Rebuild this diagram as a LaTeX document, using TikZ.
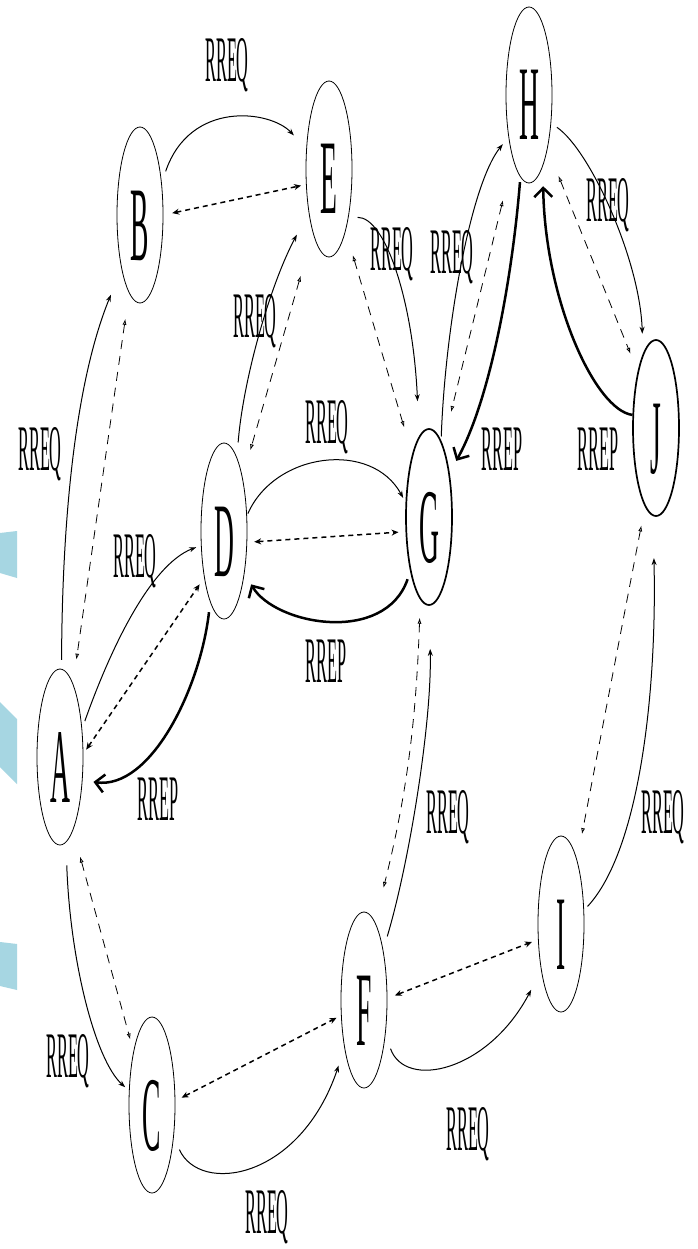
\documentclass[tikz,border=0pt]{standalone}
\usepackage{fontspec}
\setmainfont{Liberation Serif}
\usepackage{graphicx}
\usetikzlibrary{shapes.geometric,arrows.meta}
\definecolor{bluefill}{RGB}{166,214,226}
\newcommand\nlet[1]{\scalebox{0.26}[1]{\fontsize{106}{106}\selectfont #1}}
\newcommand\elab[1]{\scalebox{0.25}[1]{\fontsize{65}{65}\selectfont #1}}
\tikzset{
 nd/.style={draw, ellipse, minimum width=46pt, minimum height=176pt, inner sep=0pt, line width=0.8pt, text height=90pt, text depth=0pt},
 ndb/.style={nd, line width=1.7pt},
 req/.style={line width=1pt, -{Stealth[length=7pt,width=5pt]}},
 rev/.style={line width=0.8pt, dash pattern=on 9pt off 7pt, {Latex[open,length=6pt,width=4pt]}-{Latex[open,length=6pt,width=4pt]}},
 nb/.style={line width=1.5pt, dash pattern=on 5pt off 4pt, {Stealth[open,length=7pt,width=6pt]}-{Stealth[open,length=7pt,width=6pt]}},
 rep/.style={line width=2.5pt, -{Straight Barb[length=9pt,width=18pt]}},
 lab/.style={anchor=base, inner sep=0pt},
 blueshape/.style={fill=bluefill, draw=none}
}
\begin{document}
\begin{tikzpicture}[x=1pt,y=-1pt]
\useasboundingbox (0,0) rectangle (697,1249);
\fill[white] (0,0) rectangle (697,1249);
% light blue shapes at the left edge
\path[blueshape] (0,533) -- (17,531) -- (17,578) -- (0,573) -- cycle;
\path[blueshape] (0,702) -- (17,719) -- (17,784) -- (0,767) -- cycle;
\path[blueshape] (0,942) -- (17,944) -- (17,990) -- (0,986) -- cycle;
% nodes
\node[nd]  (A) at (60,757)  {\nlet{A}};
\node[nd]  (B) at (140,215) {\nlet{B}};
\node[nd]  (C) at (152,1105) {\nlet{C}};
\node[nd]  (D) at (224,531) {\nlet{D}};
\node[nd]  (E) at (329,169) {\nlet{E}};
\node[nd]  (F) at (364,1000) {\nlet{F}};
\node[ndb] (G) at (429,517) {\nlet{G}};
\node[nd]  (H) at (529,95)  {\nlet{H}};
\node[nd]  (I) at (561,924) {\nlet{I}};
\node[ndb] (J) at (656,428) {\nlet{J}};
% connectors
\draw[req, shorten <=9pt, shorten >=28pt] (A.89) .. controls (62,540) and (72,390) .. (B.251);
\draw[rev, shorten <=26pt, shorten >=24pt] (B.262) -- (A.80);
\draw[req, shorten <=23pt, shorten >=5pt] (A.274) .. controls (70,960) and (95,1060) .. (C.148);
\draw[rev, shorten <=27pt, shorten >=12pt] (A.280) -- (C.109);
\draw[req, shorten <=8pt, shorten >=5pt] (A.52) .. controls (110,650) and (150,565) .. (D.212);
\draw[nb, shorten <=5pt, shorten >=8pt] (A.8) -- (D.247);
\draw[rep, shorten <=10pt, shorten >=11pt] (D.259) .. controls (200,690) and (150,790) .. (A.314);
\draw[req, shorten <=12pt, shorten >=18pt] (B.56) .. controls (190,100) and (270,110) .. (E.138);
\draw[nb, shorten <=9pt, shorten >=5pt] (B.0) -- (E.214);
\draw[req, shorten <=15pt, shorten >=25pt] (D.80) .. controls (243,380) and (270,285) .. (E.245);
\draw[rev, shorten <=44pt, shorten >=28pt] (E.256) -- (D.71);
\draw[rev, shorten <=25pt, shorten >=28pt] (E.285) -- (G.105);
\draw[req, shorten <=9pt, shorten >=35pt] (E.292) .. controls (385,217) and (413,300) .. (G.97);
\draw[req, shorten <=2pt, shorten >=5pt] (D.34) .. controls (275,452) and (372,440) .. (G.148);
\draw[nb, shorten <=7pt, shorten >=7pt] (D.334) -- (G.212);
\draw[rep, shorten <=8pt, shorten >=13pt] (G.251) .. controls (385,645) and (275,625) .. (D.296);
\draw[req, shorten <=4pt, shorten >=9pt] (G.81) .. controls (445,330) and (470,185) .. (H.244);
\draw[rev, shorten <=42pt, shorten >=34pt] (H.256) -- (G.79);
\draw[rep, shorten <=5pt, shorten >=13.5pt] (H.264) .. controls (512,280) and (490,400) .. (G.65);
\draw[req, shorten <=7pt, shorten >=20pt] (H.308) .. controls (590,150) and (640,260) .. (J.100);
\draw[rev, shorten <=29pt, shorten >=19pt] (H.289) -- (J.108);
\draw[rep, shorten >=20pt] (J.151) .. controls (595,410) and (545,300) .. (H.281);
\draw[req, shorten <=14pt, shorten >=43pt] (F.69) .. controls (410,860) and (432,720) .. (G.270);
\draw[rev, shorten <=18pt, shorten >=35pt] (G.264) to[bend left=6] (F.82);
\draw[req, shorten <=5pt, shorten >=42pt] (I.31) .. controls (640,850) and (657,690) .. (J.268);
\draw[rev, shorten <=19pt, shorten >=26pt] (J.262) -- (I.76);
\draw[nb, shorten <=7pt, shorten >=5pt] (C.10) -- (F.214);
\draw[req, shorten <=13.5pt, shorten >=18pt] (C.304) .. controls (200,1195) and (300,1180) .. (F.248);
\draw[nb, shorten <=8pt, shorten >=6.5pt] (F.4) -- (I.214);
\draw[req, shorten <=15pt, shorten >=21.5pt] (F.302) .. controls (405,1090) and (488,1072) .. (I.247);
% labels
\node[lab] (l1) at (40,470) {\elab{RREQ}};
\node[lab] (l2) at (227,82) {\elab{RREQ}};
\node[lab] (l3) at (135,577) {\elab{RREQ}};
\node[lab] (l4) at (255,337) {\elab{RREQ}};
\node[lab] (l5) at (327,443) {\elab{RREQ}};
\node[lab] (l6) at (392,270) {\elab{RREQ}};
\node[lab] (l7) at (452,273) {\elab{RREQ}};
\node[lab] (l8) at (608,222) {\elab{RREQ}};
\node[lab] (l9) at (502,470) {\elab{RREP}};
\node[lab] (l10) at (598,470) {\elab{RREP}};
\node[lab] (l11) at (326,682) {\elab{RREP}};
\node[lab] (l12) at (158,820) {\elab{RREP}};
\node[lab] (l13) at (448,833) {\elab{RREQ}};
\node[lab] (l14) at (663,833) {\elab{RREQ}};
\node[lab] (l15) at (68,1077) {\elab{RREQ}};
\node[lab] (l16) at (267,1233) {\elab{RREQ}};
\node[lab] (l17) at (468,1150) {\elab{RREQ}};
\end{tikzpicture}
\end{document}
